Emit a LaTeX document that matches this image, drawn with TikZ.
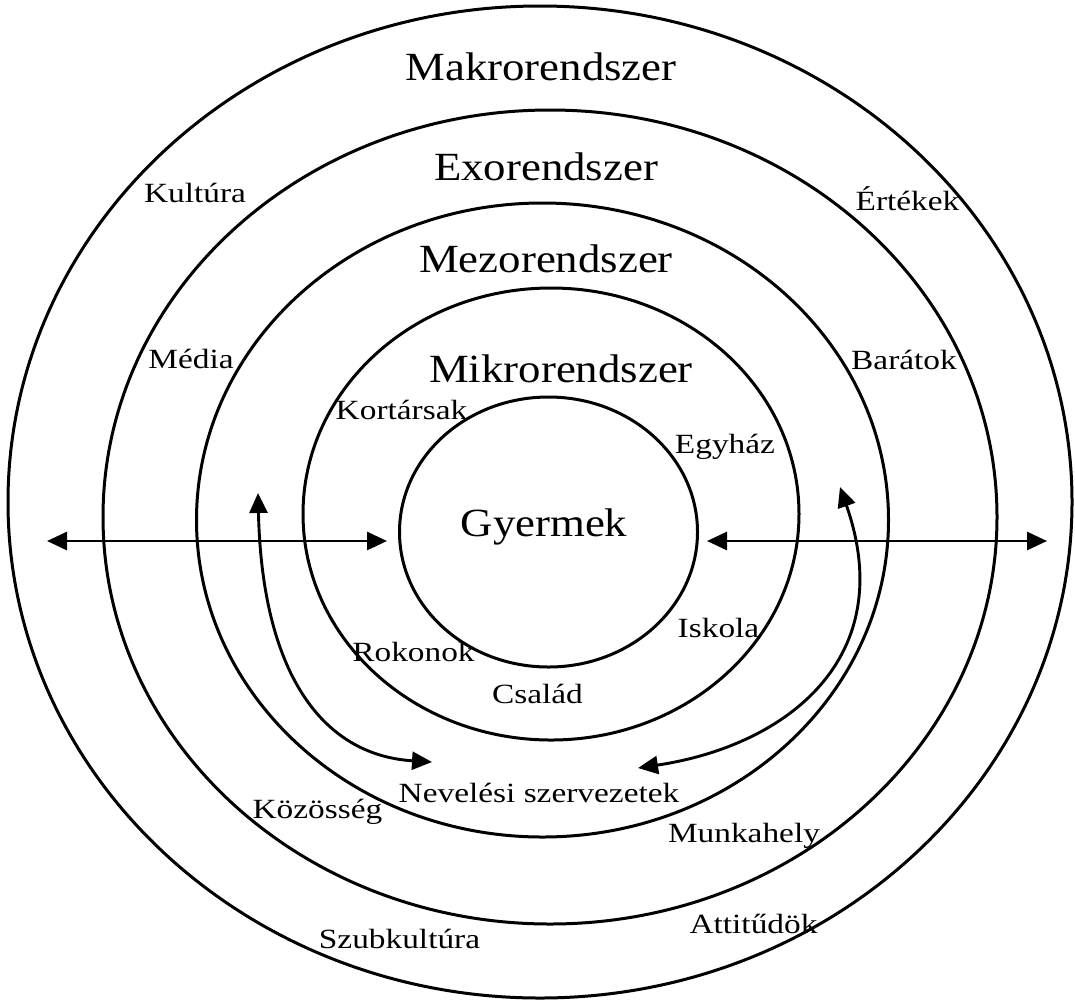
\documentclass[tikz,border=0pt]{standalone}
\usepackage{fontspec}
\setmainfont{Liberation Serif}
\newfontfamily\ringfont{Liberation Serif}[FakeStretch=1.12]
\newfontfamily\itemfont{Liberation Serif}[FakeStretch=1.2]
\usetikzlibrary{arrows.meta,shapes.geometric}
\begin{document}
\begin{tikzpicture}[x=0.5pt,y=-0.5pt,
  ring/.style={draw, ellipse, line width=1.5pt, inner sep=0pt, outer sep=0pt},
  system/.style={font=\ringfont\fontsize{20pt}{23pt}\selectfont, anchor=base, inner sep=0pt},
  item/.style={font=\itemfont\fontsize{13.9pt}{16pt}\selectfont, anchor=base, inner sep=0pt},
  link/.style={line width=1.45pt,
    {Triangle[length=10pt,width=9pt]}-{Triangle[length=10pt,width=9pt]}}
]
\useasboundingbox (0,0) rectangle (1075,1002);
\fill[white] (0,0) rectangle (1075,1002);

% nested systems
\node[ring, minimum width=532pt, minimum height=496pt] (macro) at (540,502) {};
\node[ring, minimum width=447pt, minimum height=407pt] (exo)   at (550,517) {};
\node[ring, minimum width=346pt, minimum height=317pt] (meso)  at (542.5,520) {};
\node[ring, minimum width=248pt, minimum height=226pt] (micro) at (551,514) {};
\node[ring, minimum width=149pt, minimum height=135pt] (child) at (548.5,532) {};

% system names
\node[system] (tMacro) at (541,80)  {Makrorendszer};
\node[system] (tExo)   at (546,180) {Exorendszer};
\node[system] (tMeso)  at (546,272) {Mezorendszer};
\node[system] (tMicro) at (561,382) {Mikrorendszer};
\node[system] (tChild) at (544,536) {Gyermek};

% settings within the systems
\node[item] (kultura)  at (195,202)   {Kultúra};
\node[item] (ertekek)  at (907.5,210) {Értékek};
\node[item] (media)    at (191,368)   {Média};
\node[item] (baratok)  at (904,369)   {Barátok};
\node[item] (kortars)  at (401.5,419) {Kortársak};
\node[item] (egyhaz)   at (725,453)   {Egyház};
\node[item] (iskola)   at (718.5,637) {Iskola};
\node[item] (rokonok)  at (413.5,661) {Rokonok};
\node[item] (csalad)   at (537.5,703) {Család};
\node[item] (neveles)  at (539,802)   {Nevelési szervezetek};
\node[item] (kozosseg) at (317.5,818) {Közösség};
\node[item] (munka)    at (744,842)   {Munkahely};
\node[item] (attitud)  at (753.5,933) {Attitűdök};
\node[item] (szubk)    at (399.5,948) {Szubkultúra};

% arrow end points
\coordinate (lFar)  at (47,541);
\coordinate (lNear) at (387,541);
\coordinate (rNear) at (707,541);
\coordinate (rFar)  at (1047,541);
\coordinate (lTop)  at (258,493);
\coordinate (lLow)  at (432,762);
\coordinate (rTop)  at (840,487);
\coordinate (rLow)  at (638,768);

% interactions
\draw[link] (lFar) -- (lNear);
\draw[link] (rNear) -- (rFar);
\draw[link] (lTop) .. controls (262,670) and (320,755) .. (lLow);
\draw[link] (rTop) .. controls (899.5,657) and (788,745.5) .. (rLow);
\end{tikzpicture}
\end{document}
